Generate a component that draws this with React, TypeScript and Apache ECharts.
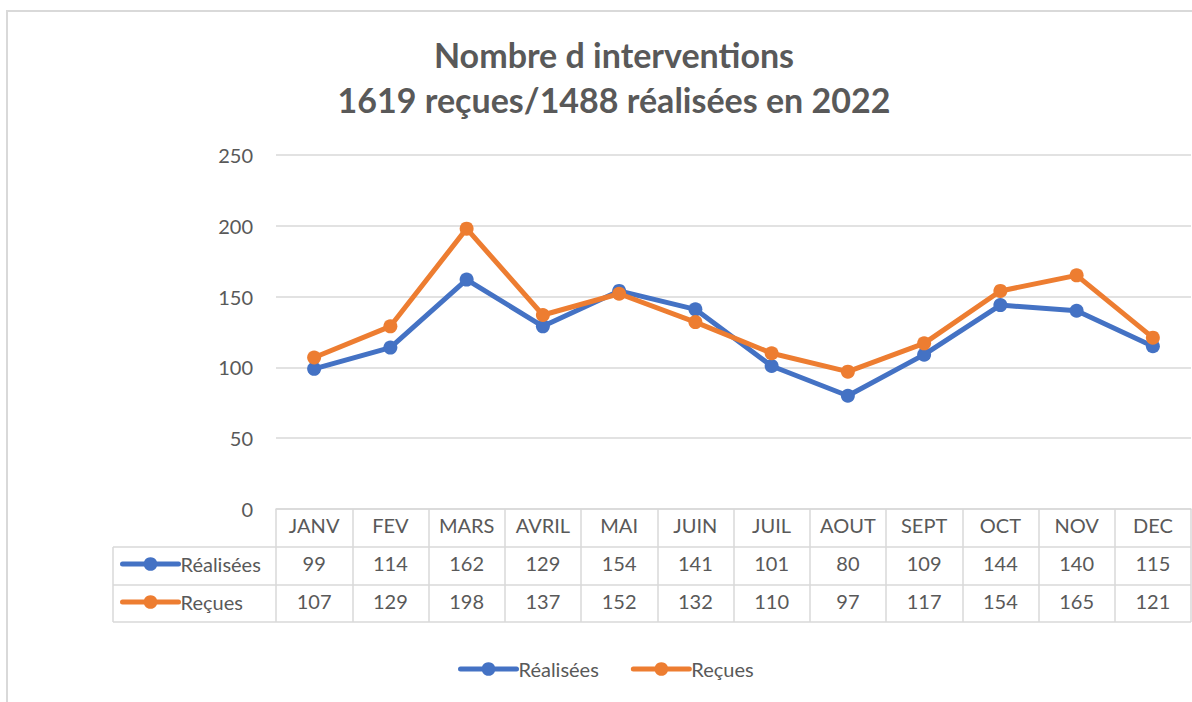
import React, { useEffect, useRef } from "react";
import * as echarts from "echarts";

const TITLE = "Nombre d interventions\n1619 reçues/1488 réalisées en 2022";
const months = ["JANV", "FEV", "MARS", "AVRIL", "MAI", "JUIN", "JUIL", "AOUT", "SEPT", "OCT", "NOV", "DEC"];
const realisees = [99, 114, 162, 129, 154, 141, 101, 80, 109, 144, 140, 115];
const recues = [107, 129, 198, 137, 152, 132, 110, 97, 117, 154, 165, 121];
const SERIES_NAMES = ["Réalisées", "Reçues"];
const yTicks = { min: 0, max: 250, interval: 50 };

const BLUE = "#4472C4";
const ORANGE = "#ED7D31";
const GRAY_TEXT = "#595959";
const GRID_LINE = "#D9D9D9";
const FONT = "Lato, 'Open Sans', sans-serif";

export default function App() {
  const ref = useRef<HTMLDivElement>(null);
  useEffect(() => {
    const chart = echarts.init(ref.current!, null, { renderer: "svg" });
    const gridLeft = 276;
    const gridRight = 1191;
    const axisY = 509;
    const rowH = 38;
    const tableLeft = 113;
    const labelStyle = { color: GRAY_TEXT, fontSize: 20, fontFamily: FONT };
    const valueAxis = (data: number[], offset: number) => ({
      type: "category",
      gridIndex: 0,
      position: "bottom",
      offset,
      data: data.map(String),
      boundaryGap: true,
      axisLine: { show: false },
      axisTick: { show: false },
      axisLabel: { ...labelStyle, interval: 0, margin: 6 },
    });
    const legendBase = {
      itemWidth: 56,
      itemHeight: 17,
      padding: 0,
      lineStyle: { width: 5 },
      textStyle: { ...labelStyle, padding: [0, 0, 0, -3] },
      selectedMode: false,
    };
    chart.setOption({
      animation: false,
      backgroundColor: "#fff",
      textStyle: { fontFamily: FONT },
      title: {
        text: TITLE,
        left: 609,
        top: 27,
        textAlign: "center",
        textStyle: { color: GRAY_TEXT, fontSize: 34, fontWeight: "bold", lineHeight: 45, fontFamily: FONT },
      },
      grid: { left: gridLeft, right: 1192 - gridRight, top: 155, bottom: 702 - axisY, containLabel: false },
      xAxis: [
        {
          type: "category",
          data: months,
          boundaryGap: true,
          axisLine: { show: true, lineStyle: { color: GRID_LINE, width: 1.5 } },
          axisTick: { show: true, interval: 0, length: rowH * 3 - 1, lineStyle: { color: GRID_LINE, width: 1.5 } },
          axisLabel: { ...labelStyle, interval: 0, margin: 6 },
        },
        valueAxis(realisees, rowH),
        valueAxis(recues, rowH * 2),
      ],
      yAxis: {
        type: "value",
        min: yTicks.min,
        max: yTicks.max,
        interval: yTicks.interval,
        axisLine: { show: false },
        axisTick: { show: false },
        axisLabel: { ...labelStyle, margin: 23 },
        splitLine: { lineStyle: { color: GRID_LINE, width: 1.5 } },
      },
      legend: [
        { ...legendBase, data: SERIES_NAMES, left: 458, top: 659, itemGap: 32 },
        { ...legendBase, data: [SERIES_NAMES[0]], left: 120, top: axisY + rowH + 7 },
        { ...legendBase, data: [SERIES_NAMES[1]], left: 120, top: axisY + rowH * 2 + 7 },
      ],
      series: [
        {
          name: SERIES_NAMES[0],
          type: "line",
          data: realisees,
          xAxisIndex: 0,
          symbol: "circle",
          symbolSize: 14,
          color: BLUE,
          lineStyle: { width: 5, color: BLUE, cap: "round", join: "round" },
          itemStyle: { color: BLUE },
        },
        {
          name: SERIES_NAMES[1],
          type: "line",
          data: recues,
          xAxisIndex: 0,
          symbol: "circle",
          symbolSize: 14,
          color: ORANGE,
          lineStyle: { width: 5, color: ORANGE, cap: "round", join: "round" },
          itemStyle: { color: ORANGE },
        },
      ],
      graphic: [
        {
          type: "rect",
          shape: { x: 7, y: 11, width: 1300, height: 800 },
          style: { fill: "none", stroke: GRID_LINE, lineWidth: 2 },
          silent: true,
        },
        ...[1, 2, 3].map((i) => ({
          type: "line",
          shape: { x1: tableLeft, y1: axisY + rowH * i - (i === 3 ? 1 : 0), x2: gridRight, y2: axisY + rowH * i - (i === 3 ? 1 : 0) },
          style: { stroke: GRID_LINE, lineWidth: 1.5 },
          silent: true,
        })),
        {
          type: "line",
          shape: { x1: tableLeft, y1: axisY + rowH, x2: tableLeft, y2: axisY + rowH * 3 - 1 },
          style: { stroke: GRID_LINE, lineWidth: 1.5 },
          silent: true,
        },
      ],
    });
    return () => chart.dispose();
  }, []);
  return (
    <div
      ref={ref}
      style={{ position: "fixed", left: 0, top: 0, width: 1192, height: 702, background: "#fff" }}
    />
  );
}
